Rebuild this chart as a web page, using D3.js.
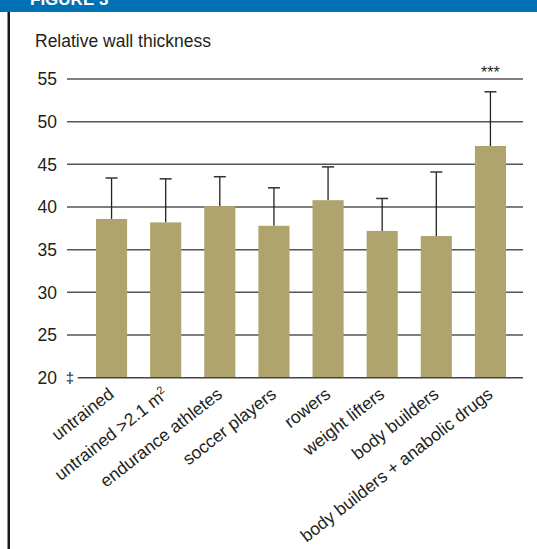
<!DOCTYPE html>
<html>
<head>
<meta charset="utf-8">
<script src="https://cdn.jsdelivr.net/npm/d3@7"></script>
<style>
  html, body { margin: 0; padding: 0; background: #fff; }
  svg { display: block; font-family: "Liberation Sans", Arial, sans-serif; }
</style>
</head>
<body>
<div id="chart"></div>
<script>
// data
var categories = ["untrained", "untrained >2.1 m2", "endurance athletes", "soccer players",
                  "rowers", "weight lifters", "body builders", "body builders + anabolic drugs"];
var means = [38.6, 38.2, 40.1, 37.8, 40.8, 37.2, 36.6, 47.15];
var errTops = [43.4, 43.3, 43.55, 42.25, 44.7, 41.0, 44.1, 53.5];
var yTicks = [20, 25, 30, 35, 40, 45, 50, 55];
var marks = ["", "", "", "", "", "", "", "***"];

var width = 537, height = 549;

var svg = d3.select("#chart").append("svg")
    .attr("width", width)
    .attr("height", height);

// header band + frame
svg.append("rect").attr("x", 0).attr("y", 0).attr("width", width).attr("height", 12)
    .attr("fill", "#0071b4");
svg.append("text").attr("x", 30).attr("y", 4.5)
    .attr("fill", "#fff").attr("font-weight", "bold").attr("font-size", 17)
    .text("FIGURE 3");
svg.append("rect").attr("x", 7.5).attr("y", 12).attr("width", 2.5).attr("height", height - 12)
    .attr("fill", "#1a1a1a");

var x = d3.scaleBand()
    .domain(categories)
    .range([84.5, 517.5])
    .paddingInner(0.425)
    .paddingOuter(0.2125);

var y = d3.scaleLinear()
    .domain([20, 55])
    .range([377.7, 79]);

// title
svg.append("text").attr("x", 35).attr("y", 46.5)
    .attr("font-size", 17.5).attr("fill", "#231f20")
    .text("Relative wall thickness");

// gridlines
svg.append("g").selectAll("line")
    .data(yTicks.filter(function(d) { return d > 20; }))
    .enter().append("line")
    .attr("x1", 67).attr("x2", 523)
    .attr("y1", function(d) { return y(d); })
    .attr("y2", function(d) { return y(d); })
    .attr("stroke", "#555").attr("stroke-width", 1.5);

// y labels
svg.append("g").selectAll("text")
    .data(yTicks)
    .enter().append("text")
    .attr("x", 57)
    .attr("y", function(d) { return y(d); })
    .attr("dy", "0.36em")
    .attr("text-anchor", "end")
    .attr("font-size", 17.5).attr("fill", "#231f20")
    .text(function(d) { return d; });

// axis break
svg.append("text").attr("x", 70).attr("y", y(20)).attr("dy", "0.36em")
    .attr("text-anchor", "middle").attr("font-size", 15).attr("fill", "#231f20")
    .text("\u2021");

// error bars (drawn first so bars cover lower part)
var err = svg.append("g").selectAll("g")
    .data(categories)
    .enter().append("g");

err.append("line")
    .attr("x1", function(d) { return x(d) + x.bandwidth() / 2; })
    .attr("x2", function(d) { return x(d) + x.bandwidth() / 2; })
    .attr("y1", function(d, i) { return y(means[i]); })
    .attr("y2", function(d, i) { return y(errTops[i]); })
    .attr("stroke", "#222").attr("stroke-width", 1.3);

err.append("line")
    .attr("x1", function(d) { return x(d) + x.bandwidth() / 2 - 6; })
    .attr("x2", function(d) { return x(d) + x.bandwidth() / 2 + 6; })
    .attr("y1", function(d, i) { return y(errTops[i]); })
    .attr("y2", function(d, i) { return y(errTops[i]); })
    .attr("stroke", "#333").attr("stroke-width", 1.5);

// bars
svg.append("g").selectAll("rect")
    .data(categories)
    .enter().append("rect")
    .attr("x", function(d) { return x(d); })
    .attr("width", x.bandwidth())
    .attr("y", function(d, i) { return y(means[i]); })
    .attr("height", function(d, i) { return y(20) - y(means[i]); })
    .attr("fill", "#b0a46e");

// baseline
svg.append("line").attr("x1", 77.7).attr("x2", 523)
    .attr("y1", y(20)).attr("y2", y(20))
    .attr("stroke", "#444").attr("stroke-width", 1.5);

// significance marks
svg.append("g").selectAll("text")
    .data(categories)
    .enter().append("text")
    .attr("x", function(d) { return x(d) + x.bandwidth() / 2; })
    .attr("y", 78)
    .attr("text-anchor", "middle")
    .attr("font-size", 16).attr("fill", "#231f20")
    .text(function(d, i) { return marks[i]; });

// x labels, rotated
var xl = svg.append("g").selectAll("text")
    .data(categories)
    .enter().append("text")
    .attr("transform", function(d) {
        return "translate(" + (x(d) + x.bandwidth() / 2 - 4) + "," + (y(20) + 9) + ") rotate(-38)";
    })
    .attr("text-anchor", "end")
    .attr("dy", "0.7em")
    .attr("font-size", 17.5).attr("fill", "#231f20");

xl.each(function(d) {
    var t = d3.select(this);
    if (/m2$/.test(d)) {
        t.append("tspan").text(d.slice(0, -1));
        t.append("tspan").attr("font-size", 11).attr("dy", "-0.6em").text("2");
    } else {
        t.text(d);
    }
});
</script>
</body>
</html>
